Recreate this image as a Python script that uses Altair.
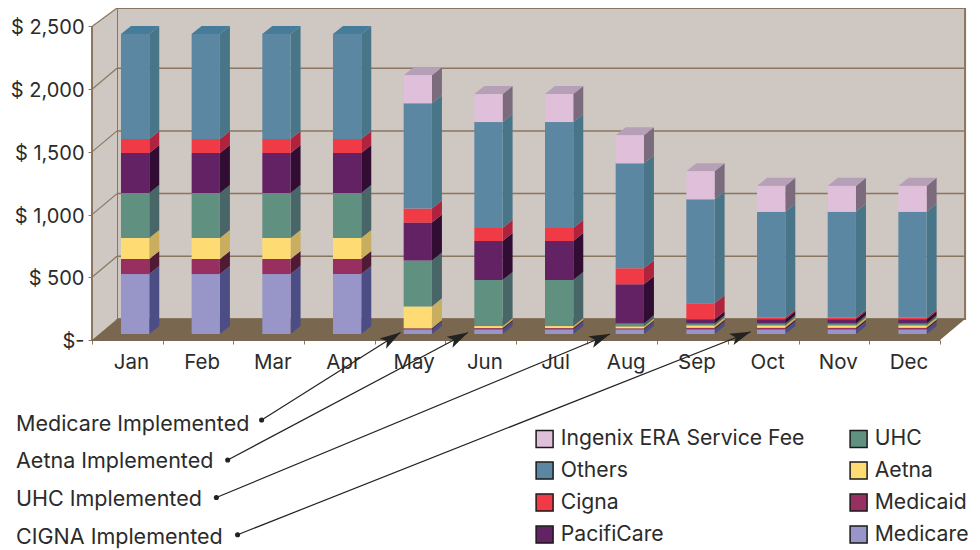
import altair as alt
import pandas as pd

MONTHS = ["Jan", "Feb", "Mar", "Apr", "May", "Jun", "Jul", "Aug", "Sep", "Oct", "Nov", "Dec"]
SERIES = ["Medicare", "Medicaid", "Aetna", "UHC", "PacifiCare", "Cigna", "Others", "Ingenix ERA Service Fee"]
LEGEND_ORDER = ["Ingenix ERA Service Fee", "Others", "Cigna", "PacifiCare", "UHC", "Aetna", "Medicaid", "Medicare"]

Medicare = [478, 478, 478, 478, 37, 37, 37, 37, 37, 37, 37, 37]
Medicaid = [120, 120, 120, 120, 8, 10, 10, 8, 12, 12, 12, 12]
Aetna = [167, 167, 167, 167, 175, 16, 16, 16, 20, 20, 20, 20]
UHC = [359, 359, 359, 359, 365, 367, 367, 24, 16, 16, 16, 16]
PacifiCare = [319, 319, 319, 319, 303, 311, 311, 311, 32, 32, 32, 32]
Cigna = [112, 112, 112, 112, 112, 104, 104, 128, 128, 12, 12, 12]
Others = [837, 837, 837, 837, 840, 845, 845, 837, 829, 845, 845, 845]
Ingenix = [0, 0, 0, 0, 223, 223, 223, 223, 223, 207, 207, 207]
VALUES = [Medicare, Medicaid, Aetna, UHC, PacifiCare, Cigna, Others, Ingenix]

FRONT = ["#9896c8", "#973060", "#ffdc73", "#5f9080", "#622264", "#f03a45", "#5b87a3", "#dfbfda"]
SIDE = ["#4d4d85", "#4e1a34", "#c8ae5e", "#486668", "#320d33", "#b0233f", "#487588", "#7b6b7d"]
TOP = ["#6e6ea8", "#6e2347", "#dcc068", "#4f7a6c", "#4a1a4c", "#c92c42", "#457c9a", "#b5a0b8"]

NOTES = ["Medicare Implemented", "Aetna Implemented", "UHC Implemented", "CIGNA Implemented"]
NOTE_Y = [-678, -973, -1276, -1579]
DOT_X = [2.40, 1.92, 1.76, 2.06]
DOT_Y = [-638, -957, -1256, -1553]
TIP_X = [4.365, 5.32, 7.33, 9.32]
TIP_Y = [60, 60, 48, 66]
TIP_ANGLE = [57.8, 62, 67.4, 68.4]

# Perspective of the box, in axis units
X_MAX, Y_MAX = 12.452, 2647.5
WALL_DX, WALL_DY = 0.354, 167.5
BAR_X0, BAR_W = 0.41, 0.40
BAR_BASE = 48
BAR_DX, BAR_DY = 0.1415, 64
WALL, FLOOR, EDGE, INK = "#cfc7c1", "#79674f", "#8a7660", "#2b2b2b"
FONT = "Inter"
FS = 21.5

xs = alt.Scale(domain=[0, X_MAX], nice=False, zero=False)
ys = alt.Scale(domain=[0, Y_MAX], nice=False, zero=False)
X = lambda **k: alt.X("x:Q", scale=xs, axis=None, stack=False, **k)
Y = lambda **k: alt.Y("y:Q", scale=ys, axis=None, stack=False, **k)
nofill = alt.Fill("c:N", scale=None, legend=None)

front, side, top = [], [], []
for m in range(12):
    base = BAR_BASE
    last = max(i for i in range(8) if VALUES[i][m] > 0)
    for i, name in enumerate(SERIES):
        v = VALUES[i][m]
        if v <= 0:
            continue
        x0, x1 = m + BAR_X0, m + BAR_X0 + BAR_W
        y0, y1 = base, base + v
        front.append(dict(x=x0, x2=x1, y=y0, y2=y1, s=name))
        sid = f"{m}-{i}"
        side.append(dict(id=sid, x=x1, y=y0, y2=y1, c=SIDE[i]))
        side.append(dict(id=sid, x=x1 + BAR_DX, y=y0 + BAR_DY, y2=y1 + BAR_DY, c=SIDE[i]))
        if i == last:
            top.append(dict(id=sid, y=y1, x=x0, x2=x1, c=TOP[i]))
            top.append(dict(id=sid, y=y1 + BAR_DY, x=x0 + BAR_DX, x2=x1 + BAR_DX, c=TOP[i]))
        base = y1

# back wall carries the two real axes
wall = alt.Chart(pd.DataFrame([dict(x=WALL_DX, x2=12 + WALL_DX, y=WALL_DY, y2=Y_MAX)])).mark_rect(
    fill=WALL, stroke=EDGE, strokeWidth=2
).encode(
    x=alt.X(
        "x:Q", scale=xs, title=None,
        axis=alt.Axis(
            orient="bottom", values=list(range(13)), grid=False, domain=False, tickSize=4, tickColor=EDGE, tickWidth=1,
            labelExpr="['" + "','".join(MONTHS) + "'][datum.value] || ''", labelOffset=39, labelPadding=8,
            labelFont=FONT, labelFontSize=20.5, labelColor=INK, labelBound=False, labelFlush=False,
            labelOverlap=False,
        ),
    ),
    x2="x2:Q",
    y=alt.Y(
        "y:Q", scale=ys, title=None,
        axis=alt.Axis(
            orient="left", values=[0, 500, 1000, 1500, 2000, 2500], grid=False, domain=False, tickSize=4, tickColor=EDGE,
            tickWidth=1, labelExpr="datum.value == 0 ? '$-' : '$ ' + format(datum.value, ',')", labelPadding=4,
            labelFont=FONT, labelFontSize=20, labelColor=INK, labelOverlap=False, labelBound=False,
            labelFlush=False, labelOffset=1.5,
        ),
    ),
    y2="y2:Q",
)

left_wall = alt.Chart(pd.DataFrame([
    dict(x=0, y=0, y2=2500, c=WALL), dict(x=WALL_DX, y=WALL_DY, y2=Y_MAX, c=WALL),
])).mark_area(orient="vertical").encode(x=X(), y=Y(), y2="y2:Q", fill=nofill)

floor = alt.Chart(pd.DataFrame([
    dict(y=0, x=0, x2=12, c=FLOOR), dict(y=WALL_DY, x=WALL_DX, x2=12 + WALL_DX, c=FLOOR),
])).mark_area(orient="horizontal").encode(y=Y(), x=X(), x2="x2:Q", fill=nofill)

ticks = [500, 1000, 1500, 2000, 2500]
grid_back = alt.Chart(pd.DataFrame([dict(x=WALL_DX, x2=12 + WALL_DX, y=v + WALL_DY) for v in ticks[:-1]])).mark_rule(
    color=EDGE, strokeWidth=1.5
).encode(x=X(), x2="x2:Q", y=Y())
grid_side = alt.Chart(pd.DataFrame([dict(x=0, x2=WALL_DX, y=v, y2=min(v + WALL_DY, Y_MAX)) for v in ticks])).mark_rule(
    color=EDGE, strokeWidth=1.2
).encode(x=X(), x2="x2:Q", y=Y(), y2="y2:Q")
front_edge = alt.Chart(pd.DataFrame([dict(x=0, y=0, y2=2500)])).mark_rule(
    color=EDGE, strokeWidth=2
).encode(x=X(), y=Y(), y2="y2:Q")
base_edge = alt.Chart(pd.DataFrame([dict(x=0, x2=12, y=0)])).mark_rule(color=FLOOR, strokeWidth=2).encode(
    x=X(), x2="x2:Q", y=Y()
)

sides = alt.Chart(pd.DataFrame(side)).mark_area(orient="vertical").encode(
    x=X(), y=Y(), y2="y2:Q", fill=nofill, detail="id:N"
)
tops = alt.Chart(pd.DataFrame(top)).mark_area(orient="horizontal").encode(
    y=Y(), x=X(), x2="x2:Q", fill=nofill, detail="id:N"
)
fronts = alt.Chart(pd.DataFrame(front)).mark_rect().encode(
    x=X(), x2="x2:Q", y=Y(), y2="y2:Q",
    color=alt.Color(
        "s:N",
        scale=alt.Scale(domain=LEGEND_ORDER, range=[FRONT[SERIES.index(n)] for n in LEGEND_ORDER]),
        sort=LEGEND_ORDER,
        legend=alt.Legend(
            title=None, orient="none", legendX=442, legendY=420, columns=2, symbolType="square", symbolSize=289,
            symbolStrokeColor="#1a1a1a", symbolStrokeWidth=1.5, labelFont=FONT, labelFontSize=21.2,
            labelColor=INK, labelOffset=5.5, rowPadding=8, columnPadding=42, labelLimit=400,
        ),
    ),
)

notes = pd.DataFrame(dict(t=NOTES, ty=NOTE_Y, dx=DOT_X, dy=DOT_Y, tx=TIP_X, tipy=TIP_Y, a=TIP_ANGLE))
notes["lx"] = -1.075
note_text = alt.Chart(notes).mark_text(align="left", baseline="middle", font=FONT, fontSize=FS, color=INK).encode(
    x=alt.X("lx:Q", scale=xs, axis=None), y=alt.Y("ty:Q", scale=ys, axis=None), text="t:N"
)
leaders = alt.Chart(notes).mark_rule(color="#222222", strokeWidth=1.2).encode(
    x=alt.X("dx:Q", scale=xs, axis=None), x2="tx:Q", y=alt.Y("dy:Q", scale=ys, axis=None), y2="tipy:Q"
)
dots = alt.Chart(notes).mark_circle(color="#222222", size=26, opacity=1).encode(
    x=alt.X("dx:Q", scale=xs, axis=None), y=alt.Y("dy:Q", scale=ys, axis=None)
)
heads = alt.Chart(notes).mark_point(
    shape="M0,0 L0.5,1.7 L0,1.3 L-0.5,1.7 Z", filled=True, color="#222222", size=600, opacity=1
).encode(
    x=alt.X("tx:Q", scale=xs, axis=None), y=alt.Y("tipy:Q", scale=ys, axis=None),
    angle=alt.Angle("a:Q", scale=None),
)

chart = alt.layer(
    wall, left_wall, floor, grid_back, grid_side, front_edge, base_edge, sides, tops, fronts,
    leaders, heads, dots, note_text,
).resolve_axis(x="independent", y="independent").properties(
    width=880, height=332, autosize=alt.AutoSizeParams(type="none"),
    padding={"left": 84, "right": 0, "top": 0, "bottom": 210}, background="white",
).configure_view(stroke=None)

chart.save("out.html", embed_options={"renderer": "svg", "actions": False})
